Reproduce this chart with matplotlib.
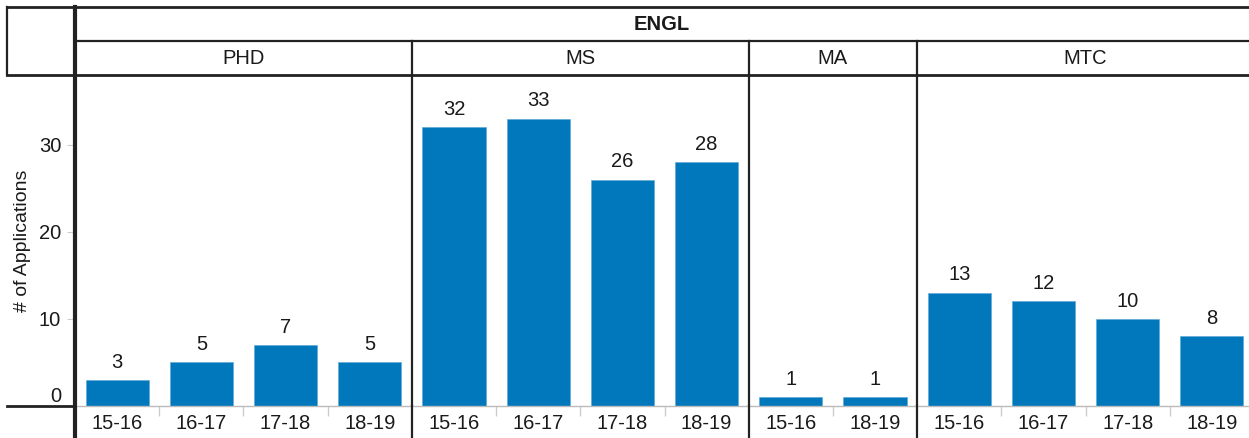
import numpy as np
import matplotlib.pyplot as plt
from matplotlib.lines import Line2D

plt.rcParams['font.family'] = ['Liberation Sans', 'DejaVu Sans']

dept = "ENGL"
programs = ["PHD", "MS", "MA", "MTC"]
phd_years = ["15-16", "16-17", "17-18", "18-19"]
phd_vals = [3, 5, 7, 5]
ms_years = ["15-16", "16-17", "17-18", "18-19"]
ms_vals = [32, 33, 26, 28]
ma_years = ["15-16", "18-19"]
ma_vals = [1, 1]
mtc_years = ["15-16", "16-17", "17-18", "18-19"]
mtc_vals = [13, 12, 10, 8]

groups = [(phd_years, phd_vals), (ms_years, ms_vals), (ma_years, ma_vals), (mtc_years, mtc_vals)]

bar_color = "#0078bb"
txt = "#1a1a1a"
fs = 14.5
W, H = 1249, 438

def fr(x0, y0, x1, y1):
    # pixel box -> figure fraction rect
    return [x0 / W, 1 - y1 / H, (x1 - x0) / W, (y1 - y0) / H]

fig = plt.figure(figsize=(W / 100, H / 100), dpi=100)
ax = fig.add_axes(fr(75, 75, 1254, 406))
ax_prog = fig.add_axes(fr(75, 41, 1254, 75), sharex=ax)
ax_top = fig.add_axes(fr(75, 7, 1254, 41), sharex=ax)
ax_bot = fig.add_axes(fr(75, 406, 1254, 438), sharex=ax)

labels = []
vals = []
bounds = []
inner = []
starts = []
pos = 0
for yrs, v in groups:
    starts.append(pos)
    labels += yrs
    vals += v
    for k in range(1, len(yrs)):
        inner.append(pos + k - 0.5)
    pos += len(yrs)
    bounds.append(pos - 0.5)
x = np.arange(len(vals))

ax.bar(x, vals, width=0.75, color=bar_color, edgecolor="#5aa6d6", linewidth=0.4)
for xi, v in zip(x, vals):
    ax.annotate(str(v), (xi, v), xytext=(0, 6), textcoords="offset points",
                ha="center", va="bottom", fontsize=fs, color=txt)

ax.set_xlim(-0.5, len(vals) - 0.5)
ax.set_ylim(0, 38)
ax.set_yticks([0, 10, 20, 30])
ax.tick_params(axis="y", length=6, color="#cccccc", labelsize=fs, labelcolor=txt, pad=4)
ax.get_yticklabels()[0].set_verticalalignment("bottom")
ax.set_xticks(inner, minor=True)
ax.tick_params(axis="x", which="minor", length=7, color="#cccccc", width=1)
ax.tick_params(axis="x", which="major", length=0, labelbottom=False)
ax.set_xticks(x)
for s in ["top", "right", "left"]:
    ax.spines[s].set_visible(False)
ax.spines["bottom"].set_color("#bbbbbb")
ax.spines["bottom"].set_linewidth(1)
ax.set_ylabel("# of Applications", fontsize=14, color=txt)
ax.yaxis.set_label_coords(-44 / 1179, 0.5)

# tick labels row
ax_bot.set_ylim(0, 1)
for xi, lab in zip(x, labels):
    ax_bot.text(xi, 0.45, lab, ha="center", va="center", fontsize=fs, color=txt)
ax_bot.axis("off")

# program header row
ax_prog.set_ylim(0, 1)
for st, (yrs, v), name in zip(starts, groups, programs):
    ax_prog.text(st + (len(yrs) - 1) / 2, 0.5, name, ha="center", va="center",
                 fontsize=fs, color=txt)
ax_prog.axis("off")

# department header row
ax_top.set_ylim(0, 1)
ax_top.text((len(vals) - 1) / 2 - 0.03, 0.5, dept, ha="center", va="center",
            fontsize=fs, fontweight="bold", color=txt)
ax_top.axis("off")

for a in (ax, ax_prog, ax_bot):
    for b in bounds[:-1]:
        a.axvline(b, color="#222222", lw=1.6, clip_on=False)

def fline(x0, y0, x1, y1, lw=1.6, c="#222222"):
    fig.add_artist(Line2D([x0 / W, x1 / W], [1 - y0 / H, 1 - y1 / H],
                          transform=fig.transFigure, color=c, lw=lw))

fline(7, 7, W, 7, lw=2)
fline(7, 75, W, 75, lw=2)
fline(75, 41, W, 41, lw=1.6)
fline(7, 7, 7, 75, lw=1.6)
fline(75, 7, 75, H, lw=3)
fline(7, 406, 75, 406, lw=2)

fig.savefig("out.png", dpi=100)
